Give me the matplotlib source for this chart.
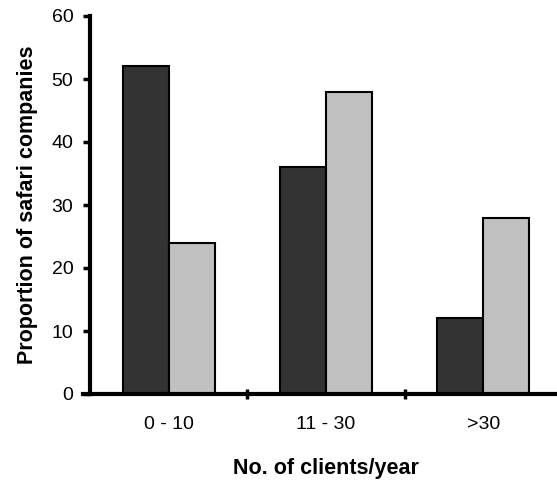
import matplotlib
matplotlib.use("Agg")
import matplotlib.pyplot as plt
import numpy as np

categories = ["0 - 10", "11 - 30", ">30"]
series_a = [52, 36, 12]
series_b = [24, 48, 28]
y_ticks = [0, 10, 20, 30, 40, 50, 60]

plt.rcParams["font.family"] = ["Liberation Sans", "DejaVu Sans"]

fig = plt.figure(figsize=(5.57, 4.83), dpi=100)
ax = fig.add_axes([90 / 557, 89 / 483, 472 / 557, 378 / 483])

x = np.arange(len(categories))
w = 0.292
ax.bar(x - w / 2, series_a, width=w, color="#333333", edgecolor="black", linewidth=1.5)
ax.bar(x + w / 2, series_b, width=w, color="#c0c0c0", edgecolor="black", linewidth=1.5)

ax.set_xlim(-0.5, 2.5)
ax.set_ylim(0, 60)
ax.set_yticks(y_ticks)
ax.tick_params(axis="y", direction="out", length=5, width=2.5, labelsize=14, pad=7)

# boundaries between groups carry the tick marks, group centres carry the labels
ax.set_xticks([0.5, 1.5])
ax.set_xticklabels([])
ax.tick_params(axis="x", which="major", direction="inout", length=7, width=2.5)
ax.set_xticks(x, minor=True)
ax.set_xticklabels(categories, minor=True)
ax.tick_params(axis="x", which="minor", length=0, labelsize=14, pad=16)

for side in ("top", "right"):
    ax.spines[side].set_visible(False)
for side in ("left", "bottom"):
    ax.spines[side].set_linewidth(3)
ax.spines["bottom"].set_bounds(-0.545, 2.5)

ax.set_xlabel("No. of clients/year", fontsize=15.5, fontweight="bold", labelpad=18)
ax.set_ylabel("Proportion of safari companies", fontsize=15.5, fontweight="bold", labelpad=10)

fig.savefig("out.png", dpi=100)
